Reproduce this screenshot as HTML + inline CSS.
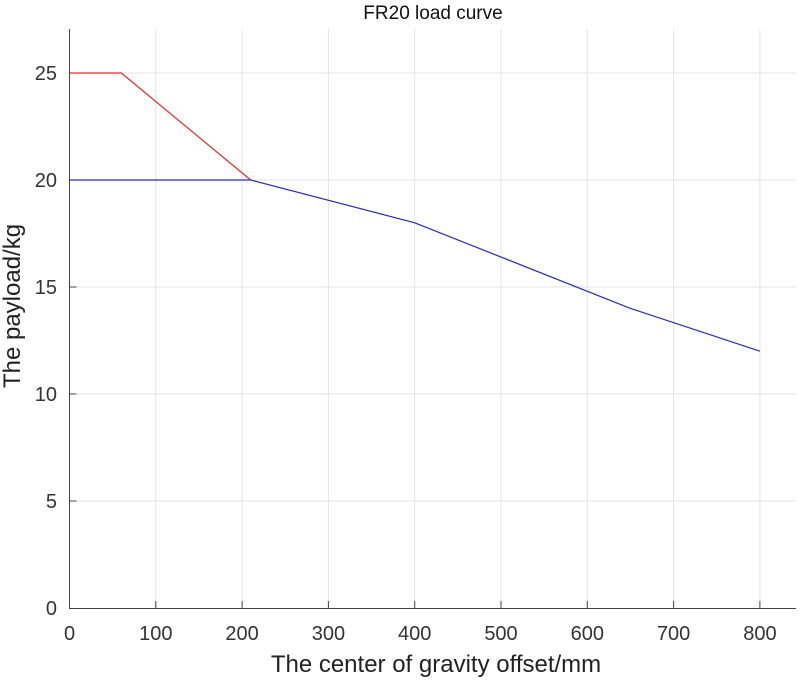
<!DOCTYPE html>
<html><head><style>body{margin:0;background:#fff}</style></head><body>
<svg width="800" height="679" xmlns="http://www.w3.org/2000/svg" font-family="Liberation Sans, sans-serif">
<rect width="800" height="679" fill="#fff"/>
<g stroke="#e3e3e3" stroke-width="1">
<line x1="155.8" y1="29" x2="155.8" y2="608"/>
<line x1="242.1" y1="29" x2="242.1" y2="608"/>
<line x1="328.4" y1="29" x2="328.4" y2="608"/>
<line x1="414.7" y1="29" x2="414.7" y2="608"/>
<line x1="501" y1="29" x2="501" y2="608"/>
<line x1="587.3" y1="29" x2="587.3" y2="608"/>
<line x1="673.6" y1="29" x2="673.6" y2="608"/>
<line x1="759.9" y1="29" x2="759.9" y2="608"/>
<line x1="69.5" y1="501" x2="796" y2="501"/>
<line x1="69.5" y1="394" x2="796" y2="394"/>
<line x1="69.5" y1="287" x2="796" y2="287"/>
<line x1="69.5" y1="180" x2="796" y2="180"/>
<line x1="69.5" y1="73" x2="796" y2="73"/>
</g>
<g stroke="#444" stroke-width="1">
<line x1="69.5" y1="29" x2="69.5" y2="608.5"/>
<line x1="69" y1="608.5" x2="796" y2="608.5"/>
<path d="M155.8 608v-7M242.1 608v-7M328.4 608v-7M414.7 608v-7M501 608v-7M587.3 608v-7M673.6 608v-7M759.9 608v-7M69.5 501h7M69.5 394h7M69.5 287h7M69.5 180h7M69.5 73h7"/>
</g>
<polyline points="69.5,73 121.3,73 250.7,180" fill="none" stroke="#d9302a" stroke-width="1.2"/>
<polyline points="69.5,180 250.7,180 414.7,222.8 630.5,308.4 759.9,351.2" fill="none" stroke="#2b2bb8" stroke-width="1.2"/>
<g font-size="20" fill="#333" text-anchor="middle">
<text x="69.5" y="640">0</text><text x="155.8" y="640">100</text><text x="242.1" y="640">200</text>
<text x="328.4" y="640">300</text><text x="414.7" y="640">400</text><text x="501" y="640">500</text>
<text x="587.3" y="640">600</text><text x="673.6" y="640">700</text><text x="759.9" y="640">800</text>
</g>
<g font-size="20" fill="#333" text-anchor="end">
<text x="57" y="615">0</text><text x="57" y="508">5</text><text x="57" y="401">10</text>
<text x="57" y="294">15</text><text x="57" y="187">20</text><text x="57" y="80">25</text>
</g>
<text x="436" y="672" font-size="24" fill="#222" text-anchor="middle">The center of gravity offset/mm</text>
<text x="0" y="0" font-size="24" fill="#222" text-anchor="middle" transform="translate(20,306) rotate(-90)">The payload/kg</text>
<text x="433" y="19" font-size="19" fill="#111" text-anchor="middle">FR20 load curve</text>
</svg>
</body></html>
